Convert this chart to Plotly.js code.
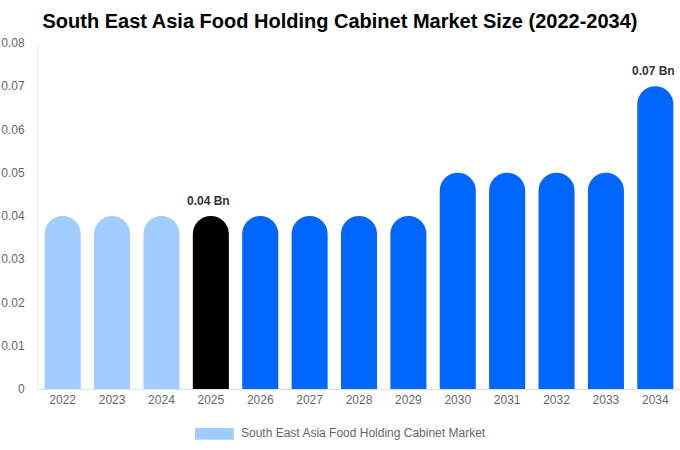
<!DOCTYPE html>
<html>
<head>
<meta charset="utf-8">
<script src="https://cdn.plot.ly/plotly-3.0.1.min.js"></script>
<style>html,body{margin:0;padding:0;background:#fff;}#chart{width:680px;height:450px;}</style>
</head>
<body>
<div id="chart"></div>
<script>
const years = ["2022","2023","2024","2025","2026","2027","2028","2029","2030","2031","2032","2033","2034"];
const marketSize = [0.04,0.04,0.04,0.04,0.04,0.04,0.04,0.04,0.05,0.05,0.05,0.05,0.07];
const barColors = ["#a0cdfe","#a0cdfe","#a0cdfe","#000000","#0066ff","#0066ff","#0066ff","#0066ff","#0066ff","#0066ff","#0066ff","#0066ff","#0066ff"];
const labelYears = ["2025","2034"];
const labelTexts = ["0.04 Bn","0.07 Bn"];
const seriesName = "South East Asia Food Holding Cabinet Market";
const yTicks = [0,0.01,0.02,0.03,0.04,0.05,0.06,0.07,0.08];

const font = "Liberation Sans, Arial, sans-serif";

const trace = {
  type: "bar",
  x: years,
  y: marketSize,
  name: seriesName,
  marker: {color: barColors, cornerradius: "50%", line: {width: 0}},
  hoverinfo: "x+y",
  showlegend: false
};

const annotations = labelYears.map((yr, i) => {
  const idx = years.indexOf(yr);
  return {
    x: idx,
    y: marketSize[idx],
    xref: "x", yref: "y",
    text: "<b>" + labelTexts[i] + "</b>",
    showarrow: false,
    yanchor: "bottom",
    yshift: 6,
    xshift: -2,
    font: {family: font, size: 12, color: "#333333"}
  };
});

annotations.push({
  xref: "paper", yref: "paper",
  x: 0.313, y: -0.127,
  xanchor: "left", yanchor: "middle",
  text: seriesName,
  showarrow: false,
  font: {family: font, size: 12, color: "#666666"}
});

const layout = {
  width: 680, height: 450,
  margin: {l: 38, r: 0, t: 43, b: 61},
  paper_bgcolor: "#ffffff",
  plot_bgcolor: "#ffffff",
  bargap: 0.27,
  title: {
    text: "<b>South East Asia Food Holding Cabinet Market Size (2022-2034)</b>",
    x: 0.5, xanchor: "center",
    y: 0.953, yanchor: "middle",
    font: {family: font, size: 20, color: "#000000"}
  },
  xaxis: {
    type: "category",
    range: [-0.5, years.length - 0.5],
    showgrid: false,
    showline: true,
    linecolor: "#e0e0e0",
    linewidth: 1,
    ticks: "",
    tickfont: {family: font, size: 12, color: "#666666"},
    zeroline: false
  },
  yaxis: {
    range: [0, 0.08],
    tickvals: yTicks,
    ticktext: yTicks.map(v => String(v)),
    showgrid: false,
    showline: true,
    linecolor: "#ebebeb",
    linewidth: 1,
    zeroline: false,
    ticks: "",
    ticklabelstandoff: 10,
    tickfont: {family: font, size: 12, color: "#666666"}
  },
  shapes: [{
    type: "rect", xref: "paper", yref: "paper",
    x0: 0.2445, x1: 0.305, y0: -0.147, y1: -0.113,
    fillcolor: "#a0cdfe", line: {width: 0}
  }],
  annotations: annotations,
  showlegend: false
};

Plotly.newPlot("chart", [trace], layout, {displayModeBar: false, staticPlot: true});
</script>
</body>
</html>
